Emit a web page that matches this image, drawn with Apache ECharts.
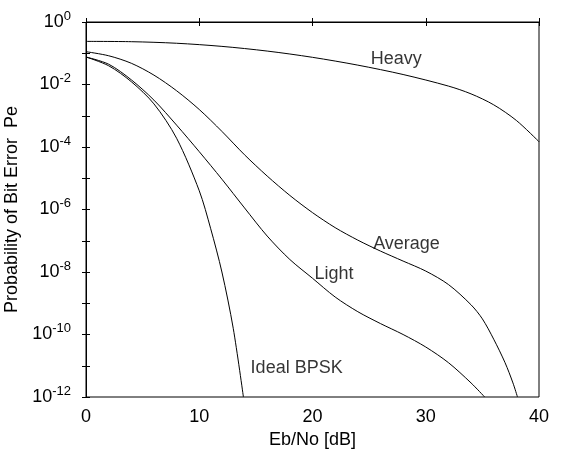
<!DOCTYPE html>
<html>
<head>
<meta charset="utf-8">
<script src="https://cdn.jsdelivr.net/npm/echarts@6/dist/echarts.min.js"></script>
<style>
  html, body { margin: 0; padding: 0; background: #fff; }
  #chart { width: 561px; height: 452px; }
</style>
</head>
<body>
<div id="chart"></div>
<script>
// values are log10(Pe), x in dB
var heavyX   = [0, 4, 8, 12, 16, 20, 24, 28, 32, 34, 36, 38, 40];
var heavyY   = [-0.62, -0.63, -0.68, -0.78, -0.93, -1.13, -1.38, -1.68, -2.05, -2.3, -2.65, -3.15, -3.83];

var averageX = [0, 2, 4, 6, 8, 10, 12, 14, 16, 18, 20, 22, 24, 26, 28, 30, 32, 34, 35, 36, 37, 37.7, 38.1];
var averageY = [-0.95, -1.08, -1.32, -1.7, -2.2, -2.8, -3.5, -4.25, -4.93, -5.55, -6.1, -6.58, -6.98, -7.33, -7.65, -7.97, -8.4, -9.05, -9.5, -10.15, -10.9, -11.55, -12];

var lightX   = [0, 2, 4, 6, 8, 10, 12, 14, 16, 18, 20, 22, 24, 26, 28, 30, 32, 34, 35.2];
var lightY   = [-1.12, -1.35, -1.85, -2.5, -3.3, -4.15, -5.03, -5.95, -6.85, -7.6, -8.2, -8.8, -9.27, -9.65, -10.0, -10.4, -10.9, -11.55, -12];

var idealX   = [0, 2, 4, 6, 8, 10, 11, 12, 13, 13.9];
var idealY   = [-1.12, -1.4, -1.91, -2.62, -3.72, -5.4, -6.6, -8.0, -9.8, -12];

var curveNames = ['Heavy', 'Average', 'Light', 'Ideal BPSK'];
var labelX     = [27.4, 28.3, 21.9, 18.6];
var labelY     = [-1.18, -7.1, -8.06, -11.07];

function pairs(xs, ys) {
    var out = [];
    for (var i = 0; i < xs.length; i++) out.push([xs[i], ys[i]]);
    return out;
}

var font = '"Liberation Sans", Arial, sans-serif';
var lineStyle = { color: '#000', width: 1 };

function curve(name, xs, ys) {
    return {
        name: name,
        type: 'line',
        data: pairs(xs, ys),
        showSymbol: false,
        smooth: 0.3,
        lineStyle: lineStyle,
        clip: true
    };
}

var labelData = [];
for (var i = 0; i < curveNames.length; i++) {
    labelData.push({ value: [labelX[i], labelY[i]], name: curveNames[i] });
}

var myChart = echarts.init(document.getElementById('chart'));
myChart.setOption({
    backgroundColor: '#fff',
    animation: false,
    textStyle: { fontFamily: font },
    grid: {
        left: 86, right: 22, top: 22, bottom: 55,
        outerBoundsMode: 'none',
        containLabel: false,
        show: true, borderColor: '#000', borderWidth: 1
    },
    xAxis: [
        {
            type: 'value', min: 0, max: 40, interval: 10,
            name: 'Eb/No [dB]', nameLocation: 'middle', nameGap: 34,
            nameTextStyle: { fontSize: 18, color: '#000', fontFamily: font },
            axisLine: { show: true, lineStyle: { color: '#000' } },
            axisTick: { inside: true, length: 4, lineStyle: { color: '#000' } },
            axisLabel: { fontSize: 18, color: '#000', margin: 11, fontFamily: font },
            splitLine: { show: false }
        },
        {
            type: 'value', min: 0, max: 40, interval: 10, position: 'top',
            axisLine: { show: true, lineStyle: { color: '#000' } },
            axisTick: { inside: true, length: 4, lineStyle: { color: '#000' } },
            axisLabel: { show: false },
            splitLine: { show: false }
        }
    ],
    yAxis: [
        {
            type: 'value', min: -12, max: 0, interval: 1,
            name: 'Probability of Bit Error  Pe', nameLocation: 'middle', nameGap: 54,
            nameTextStyle: { fontSize: 18, color: '#000', fontFamily: font },
            axisLine: { show: true, lineStyle: { color: '#000' } },
            axisTick: { inside: true, length: 4, lineStyle: { color: '#000' } },
            axisLabel: {
                margin: 15,
                formatter: function (v) {
                    if (v % 2 !== 0) return '';
                    return '{b|10}{s|' + (v === 0 ? '0' : '-' + Math.abs(v)) + '}';
                },
                rich: {
                    b: { fontSize: 18, color: '#000', fontFamily: font },
                    s: { fontSize: 13, color: '#000', fontFamily: font, padding: [0, 0, 12, 0] }
                }
            },
            splitLine: { show: false }
        },
        {
            type: 'value', min: -12, max: 0, interval: 1, position: 'right',
            axisLine: { show: true, lineStyle: { color: '#000' } },
            axisTick: { inside: true, length: 4, lineStyle: { color: '#000' } },
            axisLabel: { show: false },
            splitLine: { show: false }
        }
    ],
    series: [
        curve('Heavy', heavyX, heavyY),
        curve('Average', averageX, averageY),
        curve('Light', lightX, lightY),
        curve('Ideal BPSK', idealX, idealY),
        {
            type: 'scatter',
            data: labelData,
            symbolSize: 0,
            silent: true,
            label: {
                show: true, position: 'inside',
                formatter: '{b}',
                fontSize: 18, color: '#000', fontFamily: font
            }
        }
    ]
});
</script>
</body>
</html>
